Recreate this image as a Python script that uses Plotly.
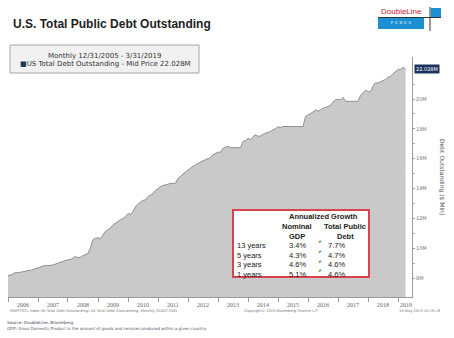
import pandas as pd
import plotly.graph_objects as go

# US total public debt outstanding, month-end, in $ Mln (millions of millions)
debt = [
    8.170,
    8.196, 8.271, 8.371, 8.356, 8.366, 8.420, 8.444, 8.505, 8.507, 8.557, 8.616, 8.680,
    8.707, 8.762, 8.849, 8.829, 8.830, 8.867, 8.932, 8.994, 9.008, 9.079, 9.145, 9.229,
    9.238, 9.335, 9.437, 9.370, 9.389, 9.492, 9.585, 9.645, 10.025, 10.574, 10.662, 10.700,
    10.632, 10.877, 11.127, 11.237, 11.353, 11.546, 11.668, 11.813, 11.910, 11.985, 12.109, 12.311,
    12.278, 12.440, 12.773, 12.948, 13.050, 13.202, 13.238, 13.450, 13.562, 13.666, 13.861, 14.025,
    14.131, 14.195, 14.270, 14.289, 14.344, 14.343, 14.342, 14.685, 14.790, 14.975, 15.111, 15.223,
    15.356, 15.486, 15.583, 15.692, 15.770, 15.856, 15.933, 16.016, 16.066, 16.261, 16.370, 16.433,
    16.433, 16.687, 16.771, 16.828, 16.738, 16.738, 16.738, 16.738, 16.738, 17.156, 17.217, 17.352,
    17.293, 17.463, 17.601, 17.508, 17.517, 17.632, 17.687, 17.750, 17.824, 17.937, 18.005, 18.141,
    18.082, 18.156, 18.152, 18.152, 18.153, 18.151, 18.151, 18.151, 18.151, 18.153, 18.827, 18.922,
    19.013, 19.126, 19.264, 19.187, 19.265, 19.381, 19.428, 19.510, 19.573, 19.805, 19.949, 19.977,
    19.937, 20.108, 19.846, 19.846, 19.846, 19.845, 19.845, 19.845, 20.245, 20.443, 20.590, 20.493,
    20.494, 20.856, 21.090, 21.069, 21.145, 21.195, 21.313, 21.458, 21.516, 21.702, 21.850, 21.974,
    21.982, 22.115, 22.028,
]
dates = pd.date_range("2005-12-31", periods=len(debt), freq="ME")

years = list(range(2006, 2020))
y_ticks = [8, 10, 12, 14, 16, 18, 20]
y_tick_text = ["8M", "10M", "12M", "14M", "16M", "18M", "20M"]
y_minor = [9, 11, 13, 15, 17, 19, 21]
last_value = debt[-1]

# growth table
periods = ["13 years", "5 years", "3 years", "1 years"]
gdp_growth = ["3.4%", "4.3%", "4.6%", "5.1%"]
debt_growth = ["7.7%", "4.7%", "4.6%", "4.6%"]

W, H = 454, 338


def px(x):
    return x / W


def py(y):
    return 1 - y / H


def label(text, x, y, size, color="#222222", family="DejaVu Sans", anchor="center", **kw):
    """Text placed in page pixel coordinates."""
    return dict(text=text, x=px(x), y=py(y), xref="paper", yref="paper",
                xanchor=anchor, yanchor="middle", showarrow=False,
                font=dict(family=family, size=size, color=color), **kw)


fig = go.Figure()
fig.add_trace(go.Scatter(
    x=dates, y=debt, mode="lines", fill="tozeroy",
    line=dict(color="#8f8f8f", width=1), fillcolor="#c9c9c9",
    hoverinfo="skip", showlegend=False,
))

ann = []
shapes = []

# title
ann.append(label("<b>U.S. Total Public Debt Outstanding</b>", 11, 24, 12, "#1e1e1e",
                 "Liberation Sans", "left"))

# logo
ann.append(label("DoubleLine", 401, 12, 8, "#c8202f", "Liberation Sans"))
shapes.append(dict(type="rect", xref="paper", yref="paper", x0=px(378), x1=px(424),
                   y0=py(29), y1=py(18), fillcolor="#1b8fd2", line=dict(width=0)))
ann.append(label("F  U  N  D  S", 401, 23.5, 3.5, "#ffffff", "Liberation Sans"))
shapes.append(dict(type="rect", xref="paper", yref="paper", x0=px(431), x1=px(441),
                   y0=py(18), y1=py(8), fillcolor="#1b8fd2", line=dict(width=0)))
shapes.append(dict(type="line", xref="paper", yref="paper", x0=px(378), x1=px(441),
                   y0=py(17.5), y1=py(17.5), line=dict(color="#333333", width=1)))
shapes.append(dict(type="line", xref="paper", yref="paper", x0=px(430), x1=px(430),
                   y0=py(7), y1=py(31), line=dict(color="#333333", width=1)))

# legend box
shapes.append(dict(type="rect", xref="paper", yref="paper", x0=px(10), x1=px(199),
                   y0=py(73), y1=py(45), fillcolor="#f1f1f1", line=dict(color="#a6a6a6", width=1)))
ann.append(label("Monthly 12/31/2005 - 3/31/2019", 104, 55.5, 7, "#333333"))
ann.append(label("<span style='color:#1c355e'>■</span>US Total Debt Outstanding - Mid Price 22.028M",
                 105, 64, 7, "#333333"))

# year labels centred within each year
for yr in years:
    xpos = pd.Timestamp(f"{yr}-07-01") if yr < 2019 else dates[-1]
    ann.append(dict(text=str(yr), x=xpos, xref="x", y=py(305), yref="paper",
                    xanchor="center", yanchor="middle", showarrow=False,
                    font=dict(family="Liberation Serif", size=6, color="#666666")))

# last value tag
ann.append(dict(text="22.028M", x=px(414), y=last_value, xref="paper", yref="y",
                xanchor="left", yanchor="middle", showarrow=False, bgcolor="#1c355e",
                borderpad=1, font=dict(family="DejaVu Sans", size=5, color="#ffffff")))

# right axis title
ann.append(label("Debt Outstanding ($ Mln)", 442, 177, 6, "#555555", textangle=90))

# footer
ann.append(label("SRVPTOTL Index (BI Total Debt Outstanding) US Total Debt Outstanding  Monthly 31DEC2005",
                 8, 311, 3.6, "#777777", anchor="left"))
ann.append(label("Copyright\u00a9 2019 Bloomberg Finance L.P.", 281, 311, 3.6, "#777777"))
ann.append(label("10-May-2019 10:28:18", 443, 311, 3.6, "#777777", anchor="right"))
ann.append(label("Source: DoubleLine, Bloomberg", 5, 322, 4.2, "#3a3a4a", anchor="left"))
ann.append(label("GDP: Gross Domestic Product is the amount of goods and services produced within a given country.",
                 5, 328, 4, "#555566", anchor="left"))

# growth table
shapes.append(dict(type="rect", xref="paper", yref="paper", x0=px(233), x1=px(369),
                   y0=py(277), y1=py(210), fillcolor="#ffffff", line=dict(color="#d8434d", width=2)))
tfam = "Liberation Sans"
hdr = [("<b>Annualized Growth</b>", 323, 216), ("<b>Nominal</b>", 297, 226),
       ("<b>Total Public</b>", 345, 226), ("<b>GDP</b>", 297, 236), ("<b>Debt</b>", 345, 236)]
for txt, x, y in hdr:
    ann.append(label(txt, x, y, 7.5, "#222222", tfam))
row_y = [245.5, 255, 264.5, 274]
for name, g, d, y in zip(periods, gdp_growth, debt_growth, row_y):
    ann.append(label(name, 235, y, 7.5, "#222222", tfam, "left"))
    ann.append(label(g, 297, y, 7.5, "#222222", tfam))
    ann.append(label(d, 336, y, 7.5, "#222222", tfam))
    ann.append(label("◤", 320, y - 3, 3.5, "#3a9a3a"))

fig.update_layout(
    width=W, height=H, margin=dict(l=0, r=0, t=0, b=0),
    paper_bgcolor="#ffffff", plot_bgcolor="#ffffff",
    annotations=ann, shapes=shapes,
    xaxis=dict(domain=[px(8), px(412)], range=["2006-01-01", "2019-06-18"],
               showgrid=False, zeroline=False, showline=True, linecolor="#9a9a9a", linewidth=1,
               tickvals=[pd.Timestamp(f"{yr}-01-01") for yr in years], ticks="outside",
               ticklen=4, tickcolor="#9a9a9a", showticklabels=False),
    yaxis=dict(domain=[py(297), py(57)], range=[6.726, 22.816], side="right",
               showgrid=False, zeroline=False, showline=True, linecolor="#9a9a9a", linewidth=1,
               tickvals=y_ticks, ticktext=y_tick_text, ticks="outside", ticklen=2,
               tickcolor="#9a9a9a", tickfont=dict(family="DejaVu Sans", size=5, color="#777777"),
               minor=dict(tickvals=y_minor, ticks="outside", ticklen=1.5, tickcolor="#b0b0b0")),
)

fig.write_html("out.html")
